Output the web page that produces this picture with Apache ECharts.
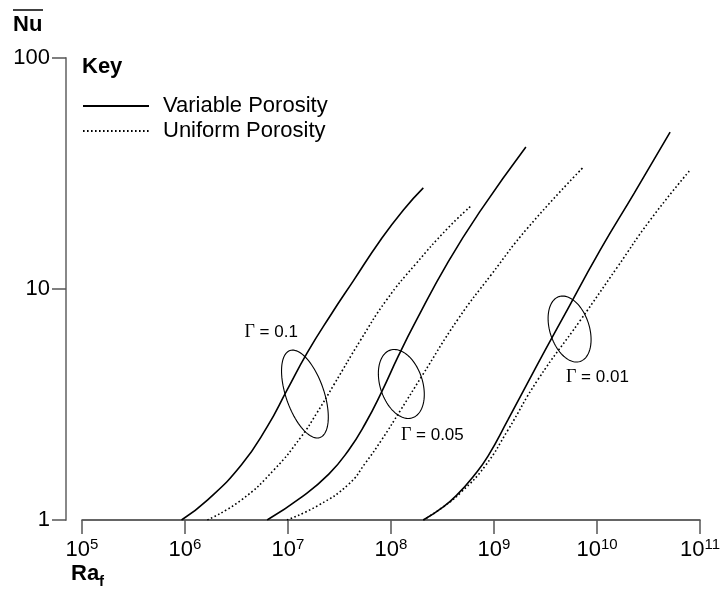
<!DOCTYPE html>
<html>
<head>
<meta charset="utf-8">
<script src="https://cdn.jsdelivr.net/npm/echarts@6/dist/echarts.min.js"></script>
<style>html,body{margin:0;padding:0;background:#fff;}#chart{width:723px;height:592px;}</style>
</head>
<body>
<div id="chart"></div>
<script>
// ---- data ----
const xTickExponents = [5, 6, 7, 8, 9, 10, 11];
const yTicks = [1, 10, 100];
const seriesNames = ['Variable Porosity', 'Uniform Porosity'];
const gammaLabels = ['0.1', '0.05', '0.01'];

const varG01Ra = [9.25e5, 1.65e6, 3.52e6, 6.27e6, 9.78e6, 1.53e7, 2.60e7, 4.34e7, 7.92e7, 1.32e8, 2.06e8];
const varG01Nu = [1.00, 1.22, 1.73, 2.53, 3.65, 5.28, 7.72, 10.9, 16.3, 22.0, 27.4];
const uniG01Ra = [1.65e6, 3.52e6, 7.32e6, 1.34e7, 1.91e7, 2.78e7, 5.08e7, 9.05e7, 1.73e8, 3.59e8, 6.00e8];
const uniG01Nu = [1.00, 1.22, 1.65, 2.29, 2.91, 3.84, 6.02, 8.96, 12.8, 18.4, 22.9];

const varG005Ra = [6.27e6, 1.365e7, 2.49e7, 3.89e7, 5.67e7, 8.10e7, 1.18e8, 1.73e8, 3.59e8, 7.49e8, 2.04e9];
const varG005Nu = [1.00, 1.26, 1.58, 2.01, 2.63, 3.58, 5.13, 7.20, 13.1, 22.0, 41.2];
const uniG005Ra = [9.78e6, 1.99e7, 3.89e7, 5.67e7, 8.10e7, 1.24e8, 1.97e8, 4.49e8, 9.36e8, 2.13e9, 7.24e9];
const uniG005Nu = [1.00, 1.16, 1.43, 1.77, 2.22, 2.99, 4.16, 7.42, 11.5, 18.4, 33.4];

const varG001Ra = [2.06e8, 3.22e8, 4.49e8, 6.27e8, 8.75e8, 1.365e9, 2.66e9, 4.44e9, 1.08e10, 2.30e10, 5.13e10];
const varG001Nu = [1.00, 1.14, 1.30, 1.54, 1.89, 2.71, 4.74, 7.20, 14.8, 26.0, 47.8];
const uniG001Ra = [2.06e8, 3.22e8, 4.80e8, 8.18e8, 1.365e9, 2.66e9, 6.93e9, 1.58e10, 3.29e10, 8.01e10];
const uniG001Nu = [1.00, 1.14, 1.32, 1.71, 2.45, 4.04, 7.34, 12.45, 19.9, 32.7];

// annotation anchors (data space)
const ellipseCenterRa = [1.46e7, 1.26e8, 5.42e9];
const ellipseCenterNu = [3.51, 3.88, 6.71];
const labelRa = [6.86e6, 2.52e8, 1.01e10];
const labelNu = [6.51, 2.33, 4.16];

// ---- helpers / styles ----
const ellipseShape = [ {a: 46, b: 19, t: 19}, {a: 35.6, b: 21.2, t: 18}, {a: 34.1, b: 19.7, t: 18} ];
const FONT = 'Liberation Sans, Arial, Helvetica, sans-serif';
const zip = (xs, ys) => xs.map((x, i) => [x, ys[i]]);

function lineSeries(name, xs, ys, dotted) {
  return {
    type: 'line', name: name, data: zip(xs, ys), symbol: 'none',
    smooth: 0.5, silent: true,
    itemStyle: { color: '#000' },
    lineStyle: { color: '#000', width: 1.6, type: dotted ? [1.6, 2.4] : 'solid' },
    z: 3
  };
}

const annData = ellipseCenterRa.map((r, i) => [r, ellipseCenterNu[i], labelRa[i], labelNu[i], i]);

const chart = echarts.init(document.getElementById('chart'), null, { renderer: 'canvas' });
chart.setOption({
  animation: false,
  backgroundColor: '#fff',
  grid: { left: 82, right: 19, top: 58, bottom: 72, containLabel: false },
  legend: {
    data: seriesNames, orient: 'vertical', left: 77, top: 90,
    itemWidth: 66, itemHeight: 14, itemGap: 3, selectedMode: false,
    itemStyle: { opacity: 0 },
    textStyle: { fontFamily: FONT, fontSize: 22, color: '#000', padding: [0, 0, 0, 9] }
  },
  xAxis: {
    type: 'log', logBase: 10, min: 1e5, max: 1e11,
    axisLine: { lineStyle: { color: '#333', width: 1.5 } },
    axisTick: { length: 14, lineStyle: { color: '#555', width: 1.5 } },
    splitLine: { show: false }, minorTick: { show: false },
    axisLabel: {
      margin: 17, color: '#000',
      formatter: function (v) {
        const e = Math.round(Math.log10(v));
        if (xTickExponents.indexOf(e) < 0) return '';
        return '{b|10}{s|' + e + '}';
      },
      rich: {
        b: { fontFamily: FONT, fontSize: 22, color: '#000', lineHeight: 24, verticalAlign: 'bottom' },
        s: { fontFamily: FONT, fontSize: 15, color: '#000', lineHeight: 15, verticalAlign: 'top' }
      }
    }
  },
  yAxis: {
    type: 'log', logBase: 10, min: 1, max: 100, offset: 16,
    axisLine: { lineStyle: { color: '#888', width: 2 } },
    axisTick: { length: 14, lineStyle: { color: '#555', width: 1.5 } },
    splitLine: { show: false }, minorTick: { show: false },
    axisLabel: {
      margin: 16, color: '#000', fontFamily: FONT, fontSize: 22,
      formatter: function (v) { return yTicks.indexOf(Math.round(v)) >= 0 ? String(Math.round(v)) : ''; }
    }
  },
  graphic: [
    { type: 'text', left: 82, top: 56, style: { text: 'Key', font: 'bold 22px ' + FONT, fill: '#000' } },
    { type: 'text', left: 13, top: 14, style: { text: 'Nu', font: 'bold 22px ' + FONT, fill: '#000' } },
    { type: 'line', shape: { x1: 13, y1: 10, x2: 43, y2: 10 }, style: { stroke: '#000', lineWidth: 1.5 } },
    { type: 'text', left: 71, top: 563, style: { text: '{r|Ra}{f|f}', rich: {
      r: { font: 'bold 22px ' + FONT, fill: '#000', lineHeight: 26, verticalAlign: 'top' },
      f: { font: 'bold 15px ' + FONT, fill: '#000', lineHeight: 15, verticalAlign: 'bottom' }
    } } }
  ],
  series: [
    lineSeries(seriesNames[0], varG01Ra, varG01Nu, false),
    lineSeries(seriesNames[1], uniG01Ra, uniG01Nu, true),
    lineSeries(seriesNames[0], varG005Ra, varG005Nu, false),
    lineSeries(seriesNames[1], uniG005Ra, uniG005Nu, true),
    lineSeries(seriesNames[0], varG001Ra, varG001Nu, false),
    lineSeries(seriesNames[1], uniG001Ra, uniG001Nu, true),
    {
      type: 'custom', silent: true, z: 4, data: annData,
      renderItem: function (params, api) {
        const i = api.value(4);
        const c = api.coord([api.value(0), api.value(1)]);
        const l = api.coord([api.value(2), api.value(3)]);
        const sh = ellipseShape[i];
        const th = sh.t * Math.PI / 180;
        const pts = [];
        for (let k = 0; k < 96; k++) {
          const t = 2 * Math.PI * k / 96;
          const ca = sh.a * Math.cos(t), sb = sh.b * Math.sin(t);
          pts.push([c[0] + ca * Math.sin(th) + sb * Math.cos(th), c[1] + ca * Math.cos(th) - sb * Math.sin(th)]);
        }
        return {
          type: 'group', children: [
            { type: 'polygon', shape: { points: pts }, style: { fill: 'none', stroke: '#000', lineWidth: 1.1 } },
            { type: 'text', x: l[0], y: l[1], style: {
              text: '{g|\u0393}{t| = ' + gammaLabels[i] + '}', align: 'center', verticalAlign: 'middle',
              rich: {
                g: { fontFamily: 'Liberation Serif, serif', fontSize: 18, fill: '#000' },
                t: { fontFamily: FONT, fontSize: 17, fill: '#000' }
              }
            } }
          ]
        };
      }
    }
  ]
});
</script>
</body>
</html>
